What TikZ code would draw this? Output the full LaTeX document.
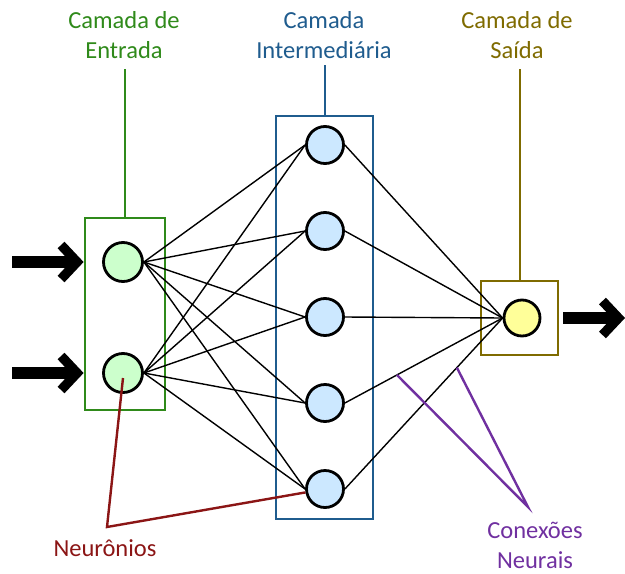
\documentclass[tikz,border=0pt]{standalone}
\usepackage{fontspec}
\setmainfont{Carlito}
\usetikzlibrary{arrows.meta,calc}
\definecolor{ingreen}{HTML}{2F8A1A}
\definecolor{hidblue}{HTML}{1F5C8E}
\definecolor{outolive}{HTML}{7F6B00}
\definecolor{neured}{HTML}{8B1515}
\definecolor{conpurple}{HTML}{7030A0}
\definecolor{infill}{HTML}{CCFFCC}
\definecolor{hidfill}{HTML}{CCE8FF}
\definecolor{outfill}{HTML}{FFFF99}
\begin{document}
\begin{tikzpicture}[x=1pt,y=-1pt,
  lbl/.style={font=\fontsize{24.5}{30}\selectfont, align=center, inner sep=0pt, anchor=base},
  neuron/.style={circle, draw=black, line width=2.8pt, inner sep=0pt},
  layer/.style={draw, line width=2.8pt, inner sep=0pt},
  link/.style={black, line width=1.4pt},
  pointer/.style={line width=2.4pt},
  bigarrow/.style={black, line width=11.5pt, -{Straight Barb[length=16pt,width=34pt,line width=9.5pt]}}]
\useasboundingbox (0,0) rectangle (625,574);

% layer frames
\node[layer, draw=ingreen, minimum width=80, minimum height=192] (inbox) at (125,314) {};
\node[layer, draw=hidblue, minimum width=97, minimum height=403] (hidbox) at (324.5,317.5) {};
\node[layer, draw=outolive, minimum width=77, minimum height=74] (outbox) at (519.5,318) {};

% layer titles (base anchor sits on the last line)
\node[lbl, text=ingreen] (inlab) at (124,58) {Camada de\\Entrada};
\node[lbl, text=hidblue] (hidlab) at (324,58) {Camada\\Intermediária};
\node[lbl, text=outolive] (outlab) at (517,58) {Camada de\\Saída};
\draw[pointer, ingreen, line width=2pt] (inbox.north) -- (inbox.north |- 0,69);
\draw[pointer, hidblue, line width=2pt] (hidbox.north) -- (hidbox.north |- 0,65);
\draw[pointer, outolive, line width=2pt] (outbox.north) -- (outbox.north |- 0,69);

% neurons
\node[neuron, fill=infill, minimum size=39] (i1) at (123,262) {};
\node[neuron, fill=infill, minimum size=39] (i2) at (123,373) {};
\foreach \k/\y in {1/145,2/231,3/317,4/403,5/489}
  \node[neuron, fill=hidfill, minimum size=37] (h\k) at (325,\y) {};
\node[neuron, fill=outfill, minimum size=36] (o) at (522,318) {};

% connections
\foreach \i in {1,2}
  \foreach \k in {1,...,5}
    \draw[link] (i\i.east) -- (h\k.west);
\foreach \k in {1,...,5}
  \draw[link] (h\k.east) -- (o.west);

% input and output arrows
\coordinate (x1) at (12,262);
\coordinate (x2) at (12,373);
\coordinate (y1) at (625,318);
\draw[bigarrow] (x1) -- (inbox.west |- i1);
\draw[bigarrow] (x2) -- (inbox.west |- i2);
\draw[bigarrow] (outbox.east) ++(4,0) coordinate (ostart) (ostart) -- (y1);

% callout: neurons
\coordinate (nv) at (107,527);
\draw[pointer, neured] ($(i2)+(0,5)$) -- (nv) -- (h5);
\node[lbl, text=neured] (nlab) at (105,556) {Neurônios};

% callout: connections
\coordinate (cv) at (528,507);
\draw[pointer, conpurple] ($(h4.east)!0.33!(o.west)$) -- (cv) -- ($(h5.east)!0.71!(o.west)$);
\node[lbl, text=conpurple] (clab) at (535,568) {Conexões\\Neurais};
\end{tikzpicture}
\end{document}
